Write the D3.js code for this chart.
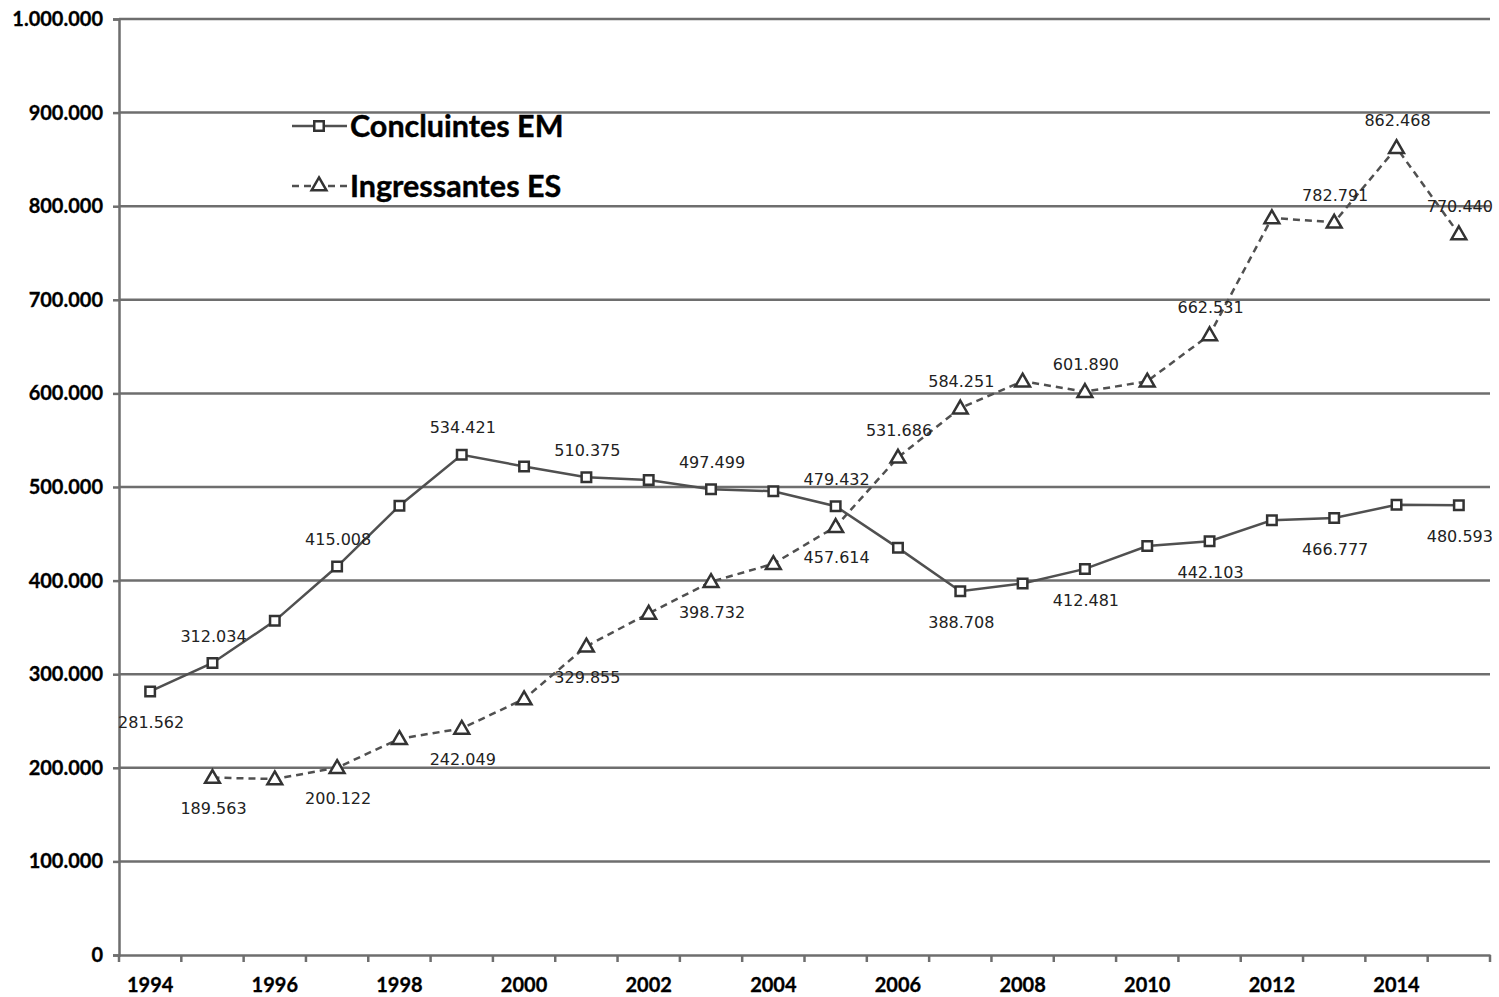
<!DOCTYPE html>
<html><head><meta charset="utf-8">
<script src="https://cdn.jsdelivr.net/npm/d3@7"></script>
<style>body{margin:0;background:#fff}svg{display:block}</style>
</head><body>
<svg id="c" width="1499" height="997"></svg>
<script>
const years = d3.range(1994, 2016);
const concluintes = [281562,312034,357000,415008,480000,534421,522000,510375,507500,497499,495500,479432,435000,388708,397000,412481,437000,442103,464500,466777,481000,480593];
const ingressantesYears = d3.range(1995, 2016);
const ingressantes = [189563,188000,200122,231000,242049,273500,329855,365000,398732,418000,457614,531686,584251,613000,601890,613000,662531,787500,782791,862468,770440];
const concluintesLabelYears = [1994,1995,1997,1999,2001,2003,2005,2007,2009,2011,2013,2015];
const concluintesLabelSide = ["below","above","above","above","above","above","above","below","below","below","below","below"];
const ingressantesLabelYears = [1995,1997,1999,2001,2003,2005,2006,2007,2009,2011,2013,2014,2015];
const ingressantesLabelSide = ["below","below","below","below","below","below","above","above","above","above","above","above","above"];
const yTicks = [0,100000,200000,300000,400000,500000,600000,700000,800000,900000,1000000];
const xTickLabels = [1994,1996,1998,2000,2002,2004,2006,2008,2010,2012,2014];
const seriesNames = ["Concluintes EM","Ingressantes ES"];

const svg = d3.select("#c");
const pL = 119, pR = 1490, pT = 19, pB = 955;
const x = d3.scaleBand().domain(years).range([pL, pR]);
const y = d3.scaleLinear().domain([0, 1000000]).range([pB, pT]);
const cx = d => x(d) + x.bandwidth() / 2;
const fmt = v => d3.format(",")(v).replace(/,/g, ".");
const gridColor = "#6e6e6e";
const lineColor = "#505050";

// gridlines
svg.append("g").selectAll("line").data(yTicks.filter(d => d > 0)).join("line")
  .attr("x1", pL).attr("x2", pR).attr("y1", d => y(d)).attr("y2", d => y(d))
  .attr("stroke", gridColor).attr("stroke-width", 2.5);

// y axis
const yAxis = svg.append("g").attr("transform", `translate(${pL},0)`)
  .call(d3.axisLeft(y).tickValues(yTicks).tickFormat(fmt).tickSize(6).tickPadding(10));
yAxis.select(".domain").attr("stroke", gridColor).attr("stroke-width", 2.5);
yAxis.selectAll(".tick line").attr("stroke", gridColor).attr("stroke-width", 2.5);
yAxis.selectAll("text").attr("font-family", "Lato, 'Open Sans', sans-serif").attr("font-weight", "bold")
  .attr("font-size", 20).attr("fill", "#000").attr("stroke", "#000").attr("stroke-width", 0.3);

// x axis
const xAxis = svg.append("g").attr("transform", `translate(0,${pB})`)
  .call(d3.axisBottom(x).tickSize(0).tickFormat(d => xTickLabels.includes(d) ? d : "").tickPadding(23));
xAxis.select(".domain").attr("stroke", gridColor).attr("stroke-width", 2.5);
xAxis.selectAll("text").attr("font-family", "Lato, 'Open Sans', sans-serif").attr("font-weight", "bold")
  .attr("font-size", 20).attr("fill", "#000").attr("stroke", "#000").attr("stroke-width", 0.3);
const bounds = years.map(d => x(d)).concat([pR]);
xAxis.append("g").selectAll("line").data(bounds).join("line")
  .attr("x1", d => d).attr("x2", d => d).attr("y1", 0).attr("y2", 7)
  .attr("stroke", gridColor).attr("stroke-width", 2.5);

// series lines
const lineC = d3.line().x((d, i) => cx(years[i])).y(d => y(d));
const lineI = d3.line().x((d, i) => cx(ingressantesYears[i])).y(d => y(d));
svg.append("path").attr("d", lineC(concluintes)).attr("fill", "none")
  .attr("stroke", lineColor).attr("stroke-width", 2.5);
svg.append("path").attr("d", lineI(ingressantes)).attr("fill", "none")
  .attr("stroke", lineColor).attr("stroke-width", 2.5).attr("stroke-dasharray", "7,5");

const sq = d3.symbol().type(d3.symbolSquare).size(90);
const tri = d3.symbol().type(d3.symbolTriangle).size(95);
svg.append("g").selectAll("path").data(concluintes).join("path")
  .attr("d", sq).attr("transform", (d, i) => `translate(${cx(years[i])},${y(d)})`)
  .attr("fill", "#fff").attr("stroke", "#333").attr("stroke-width", 2.5);
svg.append("g").selectAll("path").data(ingressantes).join("path")
  .attr("d", tri).attr("transform", (d, i) => `translate(${cx(ingressantesYears[i])},${y(d) + 1})`)
  .attr("fill", "#fff").attr("stroke", "#333").attr("stroke-width", 2.5);

// data labels
function addLabels(labelYears, sides, yrs, vals) {
  svg.append("g").selectAll("text").data(labelYears).join("text")
    .attr("x", d => cx(d) + 1)
    .attr("y", (d, i) => {
      const v = vals[yrs.indexOf(d)];
      return y(v) + (sides[i] === "above" ? -27 : 31);
    })
    .attr("dy", "0.35em").attr("text-anchor", "middle")
    .attr("font-family", "'DejaVu Sans', sans-serif").attr("font-size", 16).attr("fill", "#222")
    .text(d => fmt(vals[yrs.indexOf(d)]));
}
addLabels(concluintesLabelYears, concluintesLabelSide, years, concluintes);
addLabels(ingressantesLabelYears, ingressantesLabelSide, ingressantesYears, ingressantes);

// legend
const leg = svg.append("g");
const legendRows = [{name: seriesNames[0], yy: 126, dash: null, sym: sq},
                    {name: seriesNames[1], yy: 186, dash: "7,5", sym: tri}];
legendRows.forEach(r => {
  leg.append("line").attr("x1", 292).attr("x2", 347).attr("y1", r.yy).attr("y2", r.yy)
    .attr("stroke", lineColor).attr("stroke-width", 2.5).attr("stroke-dasharray", r.dash);
  leg.append("path").attr("d", r.sym).attr("transform", `translate(319,${r.yy})`)
    .attr("fill", "#fff").attr("stroke", "#333").attr("stroke-width", 2.5);
  leg.append("text").attr("x", 350).attr("y", r.yy).attr("dy", "0.35em")
    .attr("font-family", "Lato, 'Open Sans', sans-serif").attr("font-weight", "bold")
    .attr("font-size", 30.5).attr("fill", "#000").attr("stroke", "#000").attr("stroke-width", 0.4).text(r.name);
});
</script>
</body></html>
